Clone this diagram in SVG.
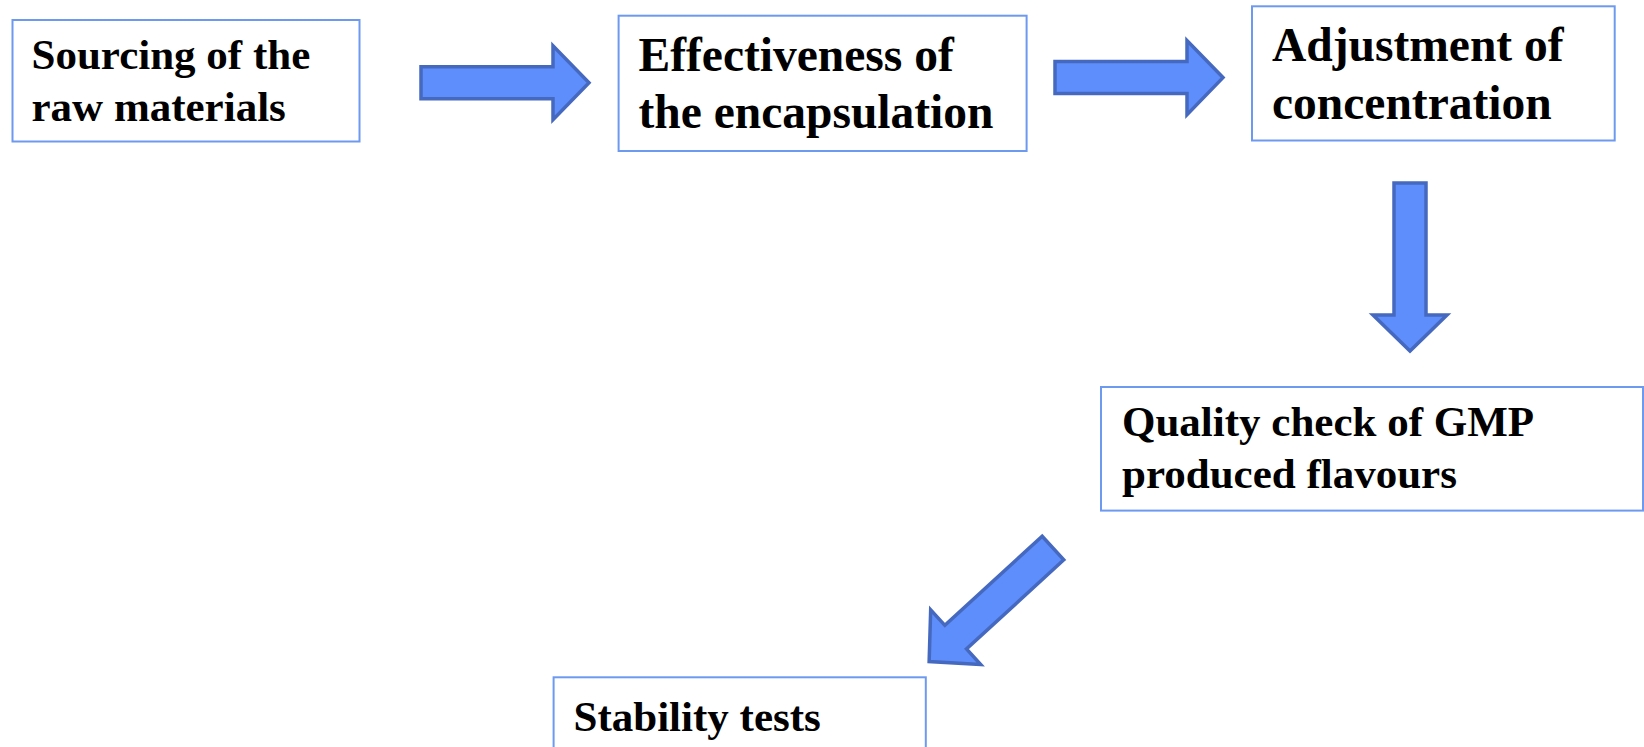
<svg xmlns="http://www.w3.org/2000/svg" width="1644" height="747" viewBox="0 0 1644 747">
<style>
.box{fill:#ffffff;stroke:#6d9af0;stroke-width:2}
.t{font-family:"Liberation Serif","Times New Roman",serif;font-weight:bold;fill:#000}
.s43{font-size:43px}
.s47{font-size:47.5px}
.arr{fill:#5e8efc;stroke:#4669c0;stroke-width:3.5;stroke-linejoin:miter}
</style>
<defs>
<path id="blockArrow" d="M0,-16 H132 V-37 L168,0 L132,37 V16 H0 Z"/>
</defs>
<rect width="1644" height="747" fill="#ffffff"/>
<g id="connectors">
<use href="#blockArrow" class="arr" transform="translate(421,82.8)"/>
<use href="#blockArrow" class="arr" transform="translate(1055,77.6)"/>
<use href="#blockArrow" class="arr" transform="translate(1410,183) rotate(90)"/>
<use href="#blockArrow" class="arr" transform="translate(1053,548) rotate(137.5)"/>
</g>
<g id="node-sourcing">
<rect class="box" x="12.5" y="20" width="347" height="121.5"/>
<text class="t s43" x="31.5" y="69">Sourcing of the</text>
<text class="t s43" x="31.5" y="120.6">raw materials</text>
</g>
<g id="node-effectiveness">
<rect class="box" x="618.6" y="15.7" width="408" height="135.3"/>
<text class="t s47" x="638.5" y="71.3">Effectiveness of</text>
<text class="t s47" x="638.5" y="128">the encapsulation</text>
</g>
<g id="node-adjustment">
<rect class="box" x="1252" y="6.3" width="362.7" height="134.2"/>
<text class="t s47" x="1272" y="61">Adjustment of</text>
<text class="t s47" x="1272" y="118.5">concentration</text>
</g>
<g id="node-quality">
<rect class="box" x="1101" y="387" width="542" height="123.6"/>
<text class="t s43" x="1122" y="436">Quality check of GMP</text>
<text class="t s43" x="1122" y="487.5">produced flavours</text>
</g>
<g id="node-stability">
<rect class="box" x="553.6" y="677.3" width="372.2" height="90"/>
<text class="t s43" x="573.5" y="731">Stability tests</text>
</g>
</svg>
